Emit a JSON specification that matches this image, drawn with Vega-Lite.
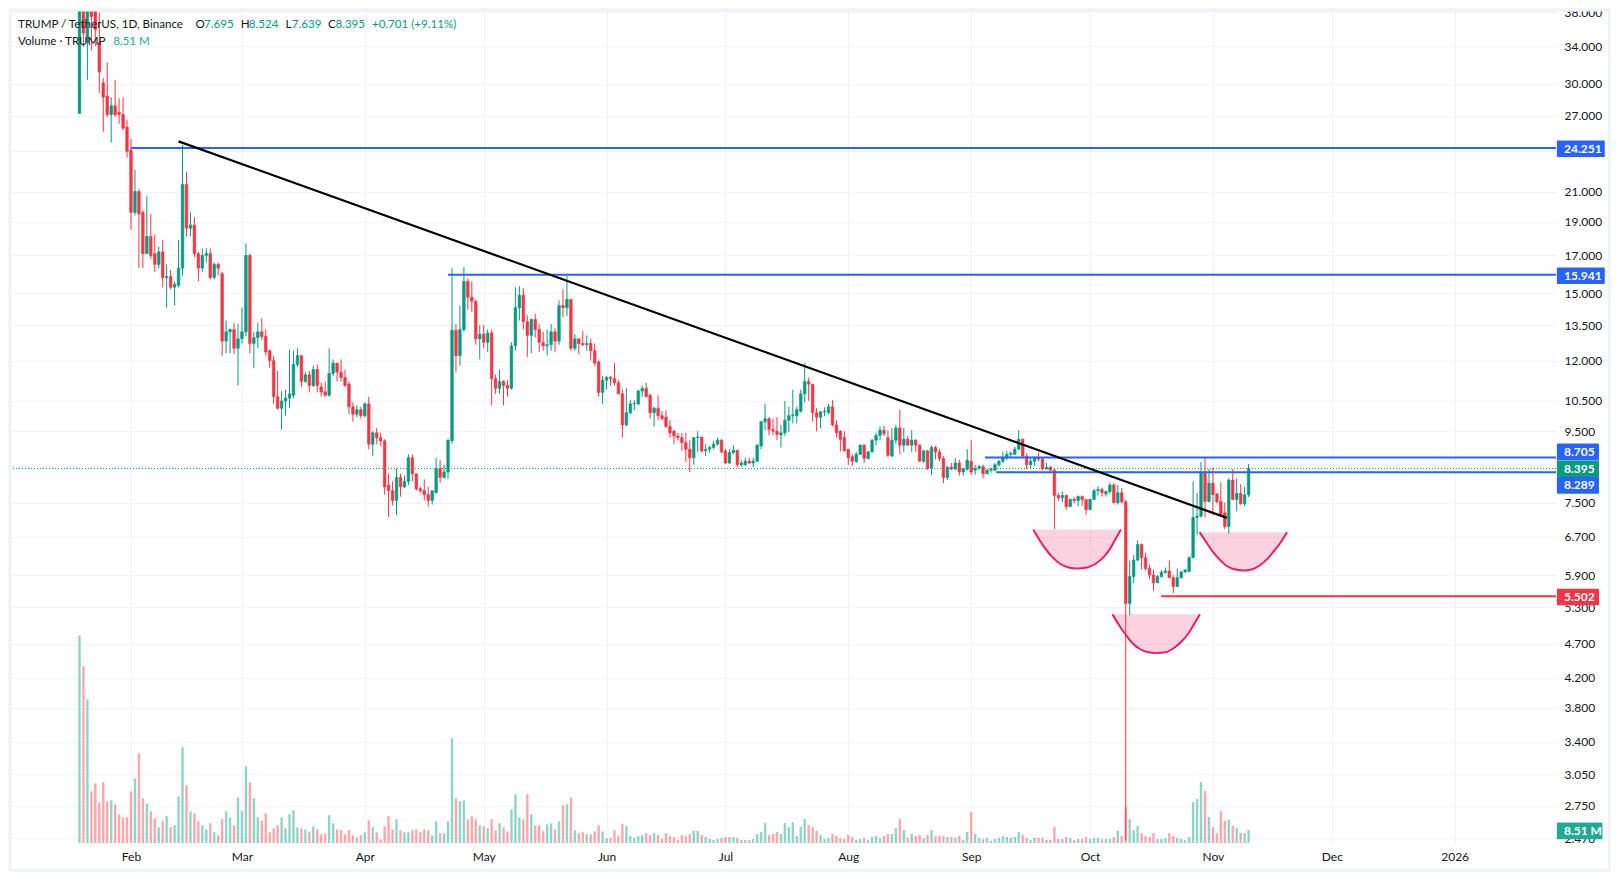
{
  "$schema": "https://vega.github.io/schema/vega-lite/v6.json",
  "width": 1546,
  "height": 833,
  "autosize": {"type": "none"},
  "padding": {"left": 10, "top": 10, "right": 64, "bottom": 38},
  "background": "#ffffff",
  "config": {"view": {"stroke": null}, "font": "Lato"},
  "datasets": {
    "ohlcv": [
      {"date":"2025-01-19","open":27.2,"high":75,"low":27.2,"close":44,"volume":135.9},
      {"date":"2025-01-20","open":44,"high":60,"low":33.9,"close":35.5,"volume":115.6},
      {"date":"2025-01-21","open":34.4,"high":50,"low":30.4,"close":41,"volume":94},
      {"date":"2025-01-22","open":41,"high":48,"low":33.5,"close":37.5,"volume":33.8},
      {"date":"2025-01-23","open":39,"high":45,"low":34,"close":35.9,"volume":39.1},
      {"date":"2025-01-24","open":34.4,"high":38,"low":29.1,"close":31.2,"volume":26.6},
      {"date":"2025-01-25","open":30.1,"high":30.6,"low":25.6,"close":28.7,"volume":39.7},
      {"date":"2025-01-26","open":28.8,"high":32.2,"low":26.9,"close":27.1,"volume":27.3},
      {"date":"2025-01-27","open":27.1,"high":28.7,"low":24.7,"close":27.9,"volume":27.9},
      {"date":"2025-01-28","open":27.9,"high":30.4,"low":26.9,"close":27.1,"volume":25.3},
      {"date":"2025-01-29","open":27.3,"high":28.6,"low":26.3,"close":27.1,"volume":18.8},
      {"date":"2025-01-30","open":27.1,"high":28.7,"low":25.7,"close":25.9,"volume":16.8},
      {"date":"2025-01-31","open":26,"high":26.6,"low":23.5,"close":24,"volume":16.8},
      {"date":"2025-02-01","open":24.1,"high":25,"low":18.5,"close":19.6,"volume":33.8},
      {"date":"2025-02-02","open":19.6,"high":22.6,"low":19.4,"close":21,"volume":42.3},
      {"date":"2025-02-03","open":21,"high":21.2,"low":16.3,"close":19.5,"volume":58.7},
      {"date":"2025-02-04","open":19.6,"high":19.75,"low":16.3,"close":17.1,"volume":29.2},
      {"date":"2025-02-05","open":17.1,"high":20.7,"low":17.1,"close":18.1,"volume":26},
      {"date":"2025-02-06","open":18.1,"high":19.5,"low":16.8,"close":17,"volume":20.7},
      {"date":"2025-02-07","open":17.1,"high":18.2,"low":16.1,"close":16.5,"volume":16.1},
      {"date":"2025-02-08","open":16.5,"high":17.5,"low":16.3,"close":17.2,"volume":10.3},
      {"date":"2025-02-09","open":17.2,"high":17.9,"low":15.3,"close":15.8,"volume":14.2},
      {"date":"2025-02-10","open":15.8,"high":16.5,"low":14.3,"close":15.85,"volume":17.5},
      {"date":"2025-02-11","open":15.85,"high":16.2,"low":15.2,"close":15.3,"volume":10.3},
      {"date":"2025-02-12","open":15.3,"high":15.6,"low":14.4,"close":15.45,"volume":11.6},
      {"date":"2025-02-13","open":15.4,"high":17.9,"low":15.3,"close":16.3,"volume":30.5},
      {"date":"2025-02-14","open":16.3,"high":24.5,"low":15.9,"close":21.5,"volume":62.6},
      {"date":"2025-02-15","open":21.5,"high":22.4,"low":18.1,"close":18.6,"volume":37.7},
      {"date":"2025-02-16","open":18.6,"high":19.6,"low":18.1,"close":18.8,"volume":20.7},
      {"date":"2025-02-17","open":18.8,"high":19.3,"low":16.9,"close":17.1,"volume":19.4},
      {"date":"2025-02-18","open":17.1,"high":17.2,"low":15.6,"close":16.3,"volume":14.2},
      {"date":"2025-02-19","open":16.3,"high":17.4,"low":16.1,"close":17,"volume":11.6},
      {"date":"2025-02-20","open":17,"high":17.4,"low":16.6,"close":17.1,"volume":8.9},
      {"date":"2025-02-21","open":17.1,"high":17.4,"low":15.7,"close":15.8,"volume":12.9},
      {"date":"2025-02-22","open":15.8,"high":16.6,"low":15.7,"close":16.5,"volume":7},
      {"date":"2025-02-23","open":16.5,"high":16.6,"low":15.9,"close":16.3,"volume":5},
      {"date":"2025-02-24","open":16,"high":16.1,"low":12.2,"close":12.8,"volume":15.5},
      {"date":"2025-02-25","open":12.8,"high":13.7,"low":12.3,"close":13.2,"volume":20.7},
      {"date":"2025-02-26","open":13.2,"high":13.35,"low":12.3,"close":13.3,"volume":16.8},
      {"date":"2025-02-27","open":13.3,"high":13.6,"low":12.25,"close":12.5,"volume":11.6},
      {"date":"2025-02-28","open":12.5,"high":13.55,"low":11.05,"close":12.9,"volume":29.9},
      {"date":"2025-03-01","open":12.9,"high":14.3,"low":12.7,"close":13.2,"volume":20.7},
      {"date":"2025-03-02","open":13.2,"high":17.7,"low":13,"close":17,"volume":50.2},
      {"date":"2025-03-03","open":17,"high":17.1,"low":12.3,"close":12.7,"volume":39.7},
      {"date":"2025-03-04","open":12.7,"high":13.2,"low":11.7,"close":12.95,"volume":29.2},
      {"date":"2025-03-05","open":12.95,"high":13.6,"low":12.5,"close":13.2,"volume":16.8},
      {"date":"2025-03-06","open":13.2,"high":13.8,"low":12.85,"close":13,"volume":14.8},
      {"date":"2025-03-07","open":13,"high":13.3,"low":12.2,"close":12.35,"volume":19.4},
      {"date":"2025-03-08","open":12.4,"high":12.45,"low":11.7,"close":12,"volume":7},
      {"date":"2025-03-09","open":12,"high":12.2,"low":10.4,"close":10.65,"volume":9.6},
      {"date":"2025-03-10","open":10.65,"high":11.6,"low":10.2,"close":10.25,"volume":11.6},
      {"date":"2025-03-11","open":10.25,"high":10.85,"low":9.55,"close":10.5,"volume":16.8},
      {"date":"2025-03-12","open":10.5,"high":10.9,"low":10,"close":10.6,"volume":9.6},
      {"date":"2025-03-13","open":10.6,"high":12.45,"low":10.25,"close":10.75,"volume":18.8},
      {"date":"2025-03-14","open":10.7,"high":12.4,"low":10.6,"close":11.85,"volume":21.4},
      {"date":"2025-03-15","open":11.85,"high":12.5,"low":11.75,"close":12.2,"volume":10.3},
      {"date":"2025-03-16","open":12.2,"high":12.2,"low":11,"close":11.2,"volume":9.6},
      {"date":"2025-03-17","open":11.2,"high":11.55,"low":11.15,"close":11.45,"volume":8.9},
      {"date":"2025-03-18","open":11.45,"high":11.6,"low":10.8,"close":11.05,"volume":7.6},
      {"date":"2025-03-19","open":11.05,"high":11.8,"low":11,"close":11.65,"volume":10.9},
      {"date":"2025-03-20","open":11.65,"high":11.85,"low":10.8,"close":11.05,"volume":8.9},
      {"date":"2025-03-21","open":11,"high":11.15,"low":10.65,"close":10.82,"volume":5.7},
      {"date":"2025-03-22","open":10.82,"high":11.2,"low":10.65,"close":10.7,"volume":6.3},
      {"date":"2025-03-23","open":10.7,"high":12.5,"low":10.65,"close":11.5,"volume":18.1},
      {"date":"2025-03-24","open":11.5,"high":12.05,"low":11.4,"close":11.9,"volume":12.9},
      {"date":"2025-03-25","open":11.9,"high":11.9,"low":11.2,"close":11.55,"volume":8.9},
      {"date":"2025-03-26","open":11.55,"high":12.05,"low":11.2,"close":11.35,"volume":8.3},
      {"date":"2025-03-27","open":11.35,"high":11.65,"low":11,"close":11.05,"volume":5.7},
      {"date":"2025-03-28","open":11.1,"high":11.2,"low":10.05,"close":10.3,"volume":8.3},
      {"date":"2025-03-29","open":10.3,"high":10.45,"low":9.8,"close":10.05,"volume":5},
      {"date":"2025-03-30","open":10.05,"high":10.35,"low":9.95,"close":10.2,"volume":3.7},
      {"date":"2025-03-31","open":10.2,"high":10.3,"low":9.9,"close":10,"volume":5},
      {"date":"2025-04-01","open":10,"high":10.45,"low":9.95,"close":10.4,"volume":7},
      {"date":"2025-04-02","open":10.4,"high":10.65,"low":8.95,"close":9.1,"volume":14.8},
      {"date":"2025-04-03","open":9.1,"high":9.5,"low":8.75,"close":9.45,"volume":10.3},
      {"date":"2025-04-04","open":9.45,"high":9.6,"low":9.1,"close":9.3,"volume":7},
      {"date":"2025-04-05","open":9.3,"high":9.45,"low":9.05,"close":9.2,"volume":2.4},
      {"date":"2025-04-06","open":9.2,"high":9.25,"low":7.7,"close":7.9,"volume":10.9},
      {"date":"2025-04-07","open":7.95,"high":8.25,"low":7.15,"close":7.8,"volume":17.5},
      {"date":"2025-04-08","open":7.8,"high":8.05,"low":7.43,"close":7.55,"volume":8.9},
      {"date":"2025-04-09","open":7.55,"high":8.4,"low":7.2,"close":8.15,"volume":15.5},
      {"date":"2025-04-10","open":8.15,"high":8.25,"low":7.65,"close":7.9,"volume":8.3},
      {"date":"2025-04-11","open":7.9,"high":8.2,"low":7.87,"close":8.05,"volume":7},
      {"date":"2025-04-12","open":8.05,"high":8.8,"low":7.95,"close":8.7,"volume":7},
      {"date":"2025-04-13","open":8.7,"high":8.8,"low":8.05,"close":8.25,"volume":8.3},
      {"date":"2025-04-14","open":8.25,"high":8.25,"low":7.8,"close":7.85,"volume":8.9},
      {"date":"2025-04-15","open":7.85,"high":7.9,"low":7.75,"close":7.8,"volume":7},
      {"date":"2025-04-16","open":7.8,"high":8.1,"low":7.55,"close":7.7,"volume":8.9},
      {"date":"2025-04-17","open":7.7,"high":7.9,"low":7.4,"close":7.55,"volume":8.3},
      {"date":"2025-04-18","open":7.55,"high":7.8,"low":7.45,"close":7.8,"volume":5},
      {"date":"2025-04-19","open":7.75,"high":8.7,"low":7.73,"close":8.4,"volume":14.2},
      {"date":"2025-04-20","open":8.4,"high":8.63,"low":8,"close":8.15,"volume":6.3},
      {"date":"2025-04-21","open":8.15,"high":8.5,"low":8.12,"close":8.3,"volume":6.3},
      {"date":"2025-04-22","open":8.3,"high":9.25,"low":8.12,"close":9.22,"volume":14.2},
      {"date":"2025-04-23","open":9.2,"high":16.3,"low":9.12,"close":13.27,"volume":68.5},
      {"date":"2025-04-24","open":13.27,"high":13.55,"low":11.55,"close":12.2,"volume":29.2},
      {"date":"2025-04-25","open":12.2,"high":14.4,"low":11.8,"close":13.3,"volume":27.3},
      {"date":"2025-04-26","open":13.3,"high":16.35,"low":13.2,"close":15.6,"volume":27.9},
      {"date":"2025-04-27","open":15.6,"high":15.75,"low":14.2,"close":14.8,"volume":15.5},
      {"date":"2025-04-28","open":14.8,"high":15.6,"low":14.1,"close":14.6,"volume":17.5},
      {"date":"2025-04-29","open":14.6,"high":14.7,"low":12.65,"close":12.9,"volume":15.5},
      {"date":"2025-04-30","open":12.9,"high":13.5,"low":12.05,"close":13.1,"volume":11.6},
      {"date":"2025-05-01","open":13.1,"high":13.5,"low":12.5,"close":12.75,"volume":10.9},
      {"date":"2025-05-02","open":12.75,"high":13.3,"low":12.35,"close":13.15,"volume":9.6},
      {"date":"2025-05-03","open":13.15,"high":13.3,"low":10.35,"close":11.3,"volume":15.5},
      {"date":"2025-05-04","open":11.3,"high":11.45,"low":10.75,"close":10.95,"volume":8.3},
      {"date":"2025-05-05","open":10.95,"high":11.65,"low":10.75,"close":11.2,"volume":12.9},
      {"date":"2025-05-06","open":11.2,"high":11.25,"low":10.35,"close":11.05,"volume":10.3},
      {"date":"2025-05-07","open":11.05,"high":11.25,"low":10.65,"close":10.95,"volume":7.6},
      {"date":"2025-05-08","open":10.95,"high":12.75,"low":10.9,"close":12.6,"volume":22},
      {"date":"2025-05-09","open":12.6,"high":15.3,"low":12.4,"close":14.3,"volume":31.9},
      {"date":"2025-05-10","open":14.3,"high":15.35,"low":13.7,"close":14.9,"volume":16.8},
      {"date":"2025-05-11","open":14.9,"high":15.25,"low":13.3,"close":13.65,"volume":15.5},
      {"date":"2025-05-12","open":13.65,"high":13.95,"low":12.15,"close":13.05,"volume":31.9},
      {"date":"2025-05-13","open":13.05,"high":13.8,"low":12.3,"close":13.75,"volume":18.8},
      {"date":"2025-05-14","open":13.75,"high":14,"low":12.95,"close":13.3,"volume":11.6},
      {"date":"2025-05-15","open":13.3,"high":13.55,"low":12.35,"close":12.75,"volume":11.6},
      {"date":"2025-05-16","open":12.75,"high":13.2,"low":12.4,"close":12.6,"volume":7.6},
      {"date":"2025-05-17","open":12.6,"high":13.3,"low":12.2,"close":12.65,"volume":12.2},
      {"date":"2025-05-18","open":12.65,"high":13.55,"low":12.4,"close":13.2,"volume":12.9},
      {"date":"2025-05-19","open":13.2,"high":13.35,"low":12.35,"close":12.8,"volume":8.9},
      {"date":"2025-05-20","open":12.8,"high":14.65,"low":12.65,"close":14.4,"volume":14.2},
      {"date":"2025-05-21","open":14.4,"high":15.2,"low":13.85,"close":14.3,"volume":24.7},
      {"date":"2025-05-22","open":14.3,"high":15.9,"low":13.9,"close":14.7,"volume":25.3},
      {"date":"2025-05-23","open":14.7,"high":14.7,"low":12.4,"close":12.5,"volume":29.9},
      {"date":"2025-05-24","open":12.5,"high":13.1,"low":12.4,"close":12.9,"volume":8.3},
      {"date":"2025-05-25","open":12.9,"high":12.9,"low":12.25,"close":12.7,"volume":6.3},
      {"date":"2025-05-26","open":12.7,"high":13.25,"low":12.6,"close":12.65,"volume":7},
      {"date":"2025-05-27","open":12.65,"high":13.05,"low":12.4,"close":12.7,"volume":5.7},
      {"date":"2025-05-28","open":12.7,"high":12.9,"low":12,"close":12.4,"volume":5.7},
      {"date":"2025-05-29","open":12.4,"high":12.7,"low":11.8,"close":11.9,"volume":7.6},
      {"date":"2025-05-30","open":11.95,"high":12,"low":10.65,"close":10.8,"volume":11.6},
      {"date":"2025-05-31","open":10.8,"high":11.4,"low":10.4,"close":11.25,"volume":7.6},
      {"date":"2025-06-01","open":11.25,"high":11.4,"low":10.9,"close":11.35,"volume":3.1},
      {"date":"2025-06-02","open":11.35,"high":11.4,"low":11.05,"close":11.3,"volume":3.1},
      {"date":"2025-06-03","open":11.3,"high":11.9,"low":11.05,"close":11.15,"volume":8.3},
      {"date":"2025-06-04","open":11.15,"high":11.25,"low":10.75,"close":10.75,"volume":4.4},
      {"date":"2025-06-05","open":10.75,"high":10.9,"low":9.3,"close":9.7,"volume":12.4},
      {"date":"2025-06-06","open":9.7,"high":10.95,"low":9.65,"close":10.1,"volume":11.1},
      {"date":"2025-06-07","open":10.1,"high":10.53,"low":10.05,"close":10.4,"volume":4.6},
      {"date":"2025-06-08","open":10.4,"high":10.53,"low":10.18,"close":10.42,"volume":3.3},
      {"date":"2025-06-09","open":10.4,"high":10.9,"low":10.35,"close":10.85,"volume":4.6},
      {"date":"2025-06-10","open":10.85,"high":11.05,"low":10.65,"close":10.95,"volume":5.2},
      {"date":"2025-06-11","open":10.95,"high":11.15,"low":10.63,"close":10.65,"volume":6.5},
      {"date":"2025-06-12","open":10.7,"high":10.75,"low":9.9,"close":10.1,"volume":5.2},
      {"date":"2025-06-13","open":10.1,"high":10.3,"low":9.65,"close":10.25,"volume":6.5},
      {"date":"2025-06-14","open":10.25,"high":10.7,"low":9.85,"close":10,"volume":5.2},
      {"date":"2025-06-15","open":10,"high":10.15,"low":9.85,"close":9.9,"volume":2.6},
      {"date":"2025-06-16","open":9.95,"high":10.18,"low":9.6,"close":9.65,"volume":6.5},
      {"date":"2025-06-17","open":9.65,"high":9.85,"low":9.3,"close":9.45,"volume":4.6},
      {"date":"2025-06-18","open":9.5,"high":9.55,"low":9.1,"close":9.35,"volume":3.9},
      {"date":"2025-06-19","open":9.35,"high":9.45,"low":9.22,"close":9.3,"volume":2},
      {"date":"2025-06-20","open":9.3,"high":9.45,"low":8.9,"close":9.15,"volume":5.2},
      {"date":"2025-06-21","open":9.15,"high":9.45,"low":8.58,"close":8.95,"volume":4.6},
      {"date":"2025-06-22","open":8.95,"high":9.22,"low":8.3,"close":8.7,"volume":5.9},
      {"date":"2025-06-23","open":8.7,"high":9.3,"low":8.5,"close":9.3,"volume":7.9},
      {"date":"2025-06-24","open":9.3,"high":9.5,"low":8.87,"close":9.32,"volume":7.9},
      {"date":"2025-06-25","open":9.32,"high":9.32,"low":8.85,"close":8.9,"volume":5.2},
      {"date":"2025-06-26","open":8.9,"high":9.1,"low":8.75,"close":8.95,"volume":3.9},
      {"date":"2025-06-27","open":8.95,"high":9.05,"low":8.85,"close":9,"volume":2.6},
      {"date":"2025-06-28","open":9,"high":9.2,"low":8.95,"close":9.1,"volume":2},
      {"date":"2025-06-29","open":9.1,"high":9.3,"low":9.07,"close":9.22,"volume":2.6},
      {"date":"2025-06-30","open":9.22,"high":9.25,"low":8.83,"close":8.87,"volume":3.3},
      {"date":"2025-07-01","open":8.9,"high":8.95,"low":8.52,"close":8.55,"volume":3.9},
      {"date":"2025-07-02","open":8.55,"high":8.95,"low":8.52,"close":8.85,"volume":3.9},
      {"date":"2025-07-03","open":8.85,"high":9.07,"low":8.8,"close":8.92,"volume":3.9},
      {"date":"2025-07-04","open":8.92,"high":8.92,"low":8.43,"close":8.5,"volume":3.3},
      {"date":"2025-07-05","open":8.5,"high":8.63,"low":8.43,"close":8.55,"volume":2},
      {"date":"2025-07-06","open":8.5,"high":8.7,"low":8.47,"close":8.6,"volume":2},
      {"date":"2025-07-07","open":8.6,"high":8.7,"low":8.52,"close":8.55,"volume":2},
      {"date":"2025-07-08","open":8.55,"high":8.7,"low":8.43,"close":8.6,"volume":2.6},
      {"date":"2025-07-09","open":8.6,"high":9.1,"low":8.58,"close":9.07,"volume":5.9},
      {"date":"2025-07-10","open":9.05,"high":9.82,"low":8.95,"close":9.8,"volume":7.2},
      {"date":"2025-07-11","open":9.8,"high":10.4,"low":9.53,"close":9.9,"volume":13.1},
      {"date":"2025-07-12","open":9.9,"high":9.95,"low":9.37,"close":9.55,"volume":5.2},
      {"date":"2025-07-13","open":9.55,"high":9.9,"low":9.37,"close":9.5,"volume":5.9},
      {"date":"2025-07-14","open":9.5,"high":9.95,"low":9.22,"close":9.4,"volume":7.2},
      {"date":"2025-07-15","open":9.38,"high":9.7,"low":9,"close":9.45,"volume":5.9},
      {"date":"2025-07-16","open":9.45,"high":10.5,"low":9.35,"close":9.85,"volume":13.1},
      {"date":"2025-07-17","open":9.85,"high":10.3,"low":9.47,"close":10,"volume":10.5},
      {"date":"2025-07-18","open":10,"high":10.9,"low":9.75,"close":10.03,"volume":13.7},
      {"date":"2025-07-19","open":10,"high":10.3,"low":9.75,"close":10.2,"volume":4.6},
      {"date":"2025-07-20","open":10.15,"high":10.9,"low":10.1,"close":10.75,"volume":10.5},
      {"date":"2025-07-21","open":10.75,"high":11.9,"low":10.45,"close":11.2,"volume":15.7},
      {"date":"2025-07-22","open":11.2,"high":11.35,"low":10.5,"close":11.1,"volume":11.8},
      {"date":"2025-07-23","open":11.1,"high":11.1,"low":9.8,"close":10.1,"volume":10.5},
      {"date":"2025-07-24","open":10.1,"high":10.25,"low":9.5,"close":9.95,"volume":7.9},
      {"date":"2025-07-25","open":9.95,"high":10.15,"low":9.6,"close":10.13,"volume":5.2},
      {"date":"2025-07-26","open":10.13,"high":10.28,"low":9.98,"close":10.15,"volume":2.6},
      {"date":"2025-07-27","open":10.1,"high":10.4,"low":10.05,"close":10.3,"volume":3.3},
      {"date":"2025-07-28","open":10.3,"high":10.53,"low":9.65,"close":9.7,"volume":5.9},
      {"date":"2025-07-29","open":9.7,"high":9.85,"low":9.3,"close":9.45,"volume":4.6},
      {"date":"2025-07-30","open":9.5,"high":9.53,"low":8.88,"close":9.25,"volume":3.3},
      {"date":"2025-07-31","open":9.3,"high":9.5,"low":8.88,"close":8.9,"volume":2.6},
      {"date":"2025-08-01","open":8.95,"high":8.95,"low":8.5,"close":8.7,"volume":5.2},
      {"date":"2025-08-02","open":8.73,"high":8.8,"low":8.47,"close":8.6,"volume":3.9},
      {"date":"2025-08-03","open":8.6,"high":8.87,"low":8.55,"close":8.8,"volume":2},
      {"date":"2025-08-04","open":8.8,"high":9.1,"low":8.78,"close":9.07,"volume":2.6},
      {"date":"2025-08-05","open":9.07,"high":9.1,"low":8.55,"close":8.68,"volume":3.3},
      {"date":"2025-08-06","open":8.68,"high":8.9,"low":8.65,"close":8.87,"volume":2},
      {"date":"2025-08-07","open":8.87,"high":9.25,"low":8.85,"close":9.22,"volume":3.9},
      {"date":"2025-08-08","open":9.22,"high":9.45,"low":9.07,"close":9.37,"volume":4.6},
      {"date":"2025-08-09","open":9.37,"high":9.65,"low":9.22,"close":9.53,"volume":3.3},
      {"date":"2025-08-10","open":9.53,"high":9.68,"low":9.35,"close":9.42,"volume":4.6},
      {"date":"2025-08-11","open":9.3,"high":9.53,"low":8.72,"close":8.77,"volume":5.9},
      {"date":"2025-08-12","open":8.75,"high":9.6,"low":8.72,"close":9.22,"volume":5.9},
      {"date":"2025-08-13","open":9.22,"high":9.7,"low":9.1,"close":9.6,"volume":9.8},
      {"date":"2025-08-14","open":9.6,"high":10.2,"low":8.8,"close":9.07,"volume":15.7},
      {"date":"2025-08-15","open":9.07,"high":9.6,"low":8.87,"close":9.25,"volume":8.5},
      {"date":"2025-08-16","open":9.25,"high":9.35,"low":9.05,"close":9.07,"volume":3.3},
      {"date":"2025-08-17","open":9.07,"high":9.53,"low":8.87,"close":9.22,"volume":5.9},
      {"date":"2025-08-18","open":9.22,"high":9.25,"low":8.87,"close":9.07,"volume":4.6},
      {"date":"2025-08-19","open":9.07,"high":9.1,"low":8.58,"close":8.6,"volume":5.2},
      {"date":"2025-08-20","open":8.6,"high":8.93,"low":8.55,"close":8.9,"volume":3.3},
      {"date":"2025-08-21","open":8.9,"high":8.93,"low":8.35,"close":8.4,"volume":5.2},
      {"date":"2025-08-22","open":8.4,"high":9.07,"low":8.22,"close":9,"volume":8.5},
      {"date":"2025-08-23","open":9,"high":9.05,"low":8.65,"close":8.87,"volume":4.6},
      {"date":"2025-08-24","open":8.87,"high":8.95,"low":8.6,"close":8.68,"volume":4.6},
      {"date":"2025-08-25","open":8.68,"high":8.75,"low":8,"close":8.15,"volume":4.6},
      {"date":"2025-08-26","open":8.15,"high":8.47,"low":8.08,"close":8.43,"volume":3.9},
      {"date":"2025-08-27","open":8.43,"high":8.55,"low":8.35,"close":8.38,"volume":3.9},
      {"date":"2025-08-28","open":8.38,"high":8.7,"low":8.35,"close":8.55,"volume":3.3},
      {"date":"2025-08-29","open":8.55,"high":8.65,"low":8.2,"close":8.3,"volume":4.6},
      {"date":"2025-08-30","open":8.3,"high":8.42,"low":8.2,"close":8.38,"volume":2},
      {"date":"2025-08-31","open":8.38,"high":8.95,"low":8.33,"close":8.63,"volume":7.2},
      {"date":"2025-09-01","open":8.6,"high":9.22,"low":8.22,"close":8.3,"volume":20.3},
      {"date":"2025-09-02","open":8.35,"high":8.5,"low":8.22,"close":8.4,"volume":5.9},
      {"date":"2025-09-03","open":8.4,"high":8.5,"low":8.35,"close":8.45,"volume":3.3},
      {"date":"2025-09-04","open":8.45,"high":8.5,"low":8.13,"close":8.25,"volume":2.6},
      {"date":"2025-09-05","open":8.25,"high":8.38,"low":8.23,"close":8.35,"volume":3.3},
      {"date":"2025-09-06","open":8.35,"high":8.42,"low":8.28,"close":8.38,"volume":1.3},
      {"date":"2025-09-07","open":8.35,"high":8.55,"low":8.32,"close":8.5,"volume":2.6},
      {"date":"2025-09-08","open":8.5,"high":8.63,"low":8.45,"close":8.6,"volume":3.3},
      {"date":"2025-09-09","open":8.6,"high":8.88,"low":8.55,"close":8.7,"volume":4.6},
      {"date":"2025-09-10","open":8.7,"high":8.9,"low":8.63,"close":8.8,"volume":3.9},
      {"date":"2025-09-11","open":8.8,"high":8.88,"low":8.7,"close":8.83,"volume":3.3},
      {"date":"2025-09-12","open":8.8,"high":9.03,"low":8.78,"close":8.95,"volume":3.9},
      {"date":"2025-09-13","open":8.95,"high":9.53,"low":8.92,"close":9.25,"volume":7.2},
      {"date":"2025-09-14","open":9.25,"high":9.27,"low":8.68,"close":8.75,"volume":5.2},
      {"date":"2025-09-15","open":8.75,"high":8.82,"low":8.38,"close":8.5,"volume":3.3},
      {"date":"2025-09-16","open":8.5,"high":8.7,"low":8.4,"close":8.6,"volume":2},
      {"date":"2025-09-17","open":8.6,"high":8.75,"low":8.47,"close":8.7,"volume":3.3},
      {"date":"2025-09-18","open":8.7,"high":8.85,"low":8.6,"close":8.66,"volume":3.3},
      {"date":"2025-09-19","open":8.66,"high":8.7,"low":8.35,"close":8.38,"volume":3.3},
      {"date":"2025-09-20","open":8.38,"high":8.55,"low":8.38,"close":8.43,"volume":2},
      {"date":"2025-09-21","open":8.43,"high":8.47,"low":8.32,"close":8.35,"volume":2},
      {"date":"2025-09-22","open":8.35,"high":8.38,"low":6.87,"close":7.68,"volume":10.5},
      {"date":"2025-09-23","open":7.68,"high":7.74,"low":7.55,"close":7.62,"volume":2.6},
      {"date":"2025-09-24","open":7.62,"high":7.78,"low":7.5,"close":7.68,"volume":2.6},
      {"date":"2025-09-25","open":7.68,"high":7.7,"low":7.31,"close":7.4,"volume":3.9},
      {"date":"2025-09-26","open":7.4,"high":7.6,"low":7.4,"close":7.58,"volume":3.3},
      {"date":"2025-09-27","open":7.58,"high":7.63,"low":7.48,"close":7.55,"volume":2},
      {"date":"2025-09-28","open":7.55,"high":7.68,"low":7.41,"close":7.65,"volume":2.6},
      {"date":"2025-09-29","open":7.65,"high":7.68,"low":7.42,"close":7.57,"volume":2.6},
      {"date":"2025-09-30","open":7.57,"high":7.6,"low":7.2,"close":7.33,"volume":3.9},
      {"date":"2025-10-01","open":7.33,"high":7.6,"low":7.31,"close":7.58,"volume":2.6},
      {"date":"2025-10-02","open":7.58,"high":7.85,"low":7.56,"close":7.8,"volume":3.3},
      {"date":"2025-10-03","open":7.8,"high":7.92,"low":7.68,"close":7.83,"volume":3.3},
      {"date":"2025-10-04","open":7.83,"high":7.88,"low":7.65,"close":7.75,"volume":2.6},
      {"date":"2025-10-05","open":7.72,"high":7.8,"low":7.65,"close":7.78,"volume":2.6},
      {"date":"2025-10-06","open":7.78,"high":8.02,"low":7.72,"close":7.95,"volume":2.6},
      {"date":"2025-10-07","open":7.95,"high":8,"low":7.48,"close":7.5,"volume":3.9},
      {"date":"2025-10-08","open":7.5,"high":7.95,"low":7.45,"close":7.75,"volume":7.9},
      {"date":"2025-10-09","open":7.75,"high":7.87,"low":7.48,"close":7.52,"volume":4.6},
      {"date":"2025-10-10","open":7.52,"high":7.57,"low":2.45,"close":5.37,"volume":23.6},
      {"date":"2025-10-11","open":5.37,"high":6.19,"low":5.17,"close":5.87,"volume":15.7},
      {"date":"2025-10-12","open":5.87,"high":6.3,"low":5.75,"close":6.2,"volume":8.5},
      {"date":"2025-10-13","open":6.2,"high":6.62,"low":6.18,"close":6.53,"volume":11.1},
      {"date":"2025-10-14","open":6.53,"high":6.55,"low":6.01,"close":6.25,"volume":6.5},
      {"date":"2025-10-15","open":6.25,"high":6.35,"low":5.99,"close":6.03,"volume":4.6},
      {"date":"2025-10-16","open":6.03,"high":6.11,"low":5.82,"close":5.9,"volume":3.9},
      {"date":"2025-10-17","open":5.9,"high":6,"low":5.6,"close":5.75,"volume":6.5},
      {"date":"2025-10-18","open":5.75,"high":5.9,"low":5.75,"close":5.87,"volume":2.6},
      {"date":"2025-10-19","open":5.87,"high":6,"low":5.85,"close":5.95,"volume":2.6},
      {"date":"2025-10-20","open":5.95,"high":6.05,"low":5.93,"close":5.98,"volume":3.3},
      {"date":"2025-10-21","open":5.98,"high":6.19,"low":5.84,"close":5.85,"volume":6.5},
      {"date":"2025-10-22","open":5.85,"high":5.9,"low":5.56,"close":5.68,"volume":4.6},
      {"date":"2025-10-23","open":5.68,"high":6.03,"low":5.68,"close":5.85,"volume":3.3},
      {"date":"2025-10-24","open":5.85,"high":5.98,"low":5.83,"close":5.96,"volume":2.6},
      {"date":"2025-10-25","open":5.96,"high":6.02,"low":5.94,"close":6,"volume":2},
      {"date":"2025-10-26","open":5.97,"high":6.28,"low":5.96,"close":6.25,"volume":3.9},
      {"date":"2025-10-27","open":6.25,"high":8.05,"low":6.24,"close":7.14,"volume":26.8},
      {"date":"2025-10-28","open":7.14,"high":7.74,"low":6.73,"close":7.17,"volume":28.8},
      {"date":"2025-10-29","open":7.17,"high":8.58,"low":7.14,"close":8.29,"volume":39.9},
      {"date":"2025-10-30","open":8.29,"high":8.7,"low":7.14,"close":7.53,"volume":34},
      {"date":"2025-10-31","open":7.53,"high":8.38,"low":7.5,"close":8,"volume":17},
      {"date":"2025-11-01","open":8,"high":8.43,"low":7.2,"close":7.7,"volume":10.5},
      {"date":"2025-11-02","open":7.72,"high":7.74,"low":7.48,"close":7.52,"volume":6.5},
      {"date":"2025-11-03","open":7.53,"high":8.02,"low":7.18,"close":7.2,"volume":20.9},
      {"date":"2025-11-04","open":7.25,"high":7.5,"low":6.87,"close":6.93,"volume":14.4},
      {"date":"2025-11-05","open":6.93,"high":8.13,"low":6.77,"close":8.08,"volume":15.1},
      {"date":"2025-11-06","open":8.08,"high":8.38,"low":7.56,"close":7.58,"volume":11.1},
      {"date":"2025-11-07","open":7.58,"high":8.13,"low":7.29,"close":7.73,"volume":9.8},
      {"date":"2025-11-08","open":7.73,"high":7.97,"low":7.45,"close":7.47,"volume":6.5},
      {"date":"2025-11-09","open":7.47,"high":7.9,"low":7.4,"close":7.695,"volume":6.5},
      {"date":"2025-11-10","open":7.695,"high":8.524,"low":7.639,"close":8.395,"volume":8.51}
    ],
    "levels": [
      {"price":24.251,"from":"2025-02-01","to":"2026-01-26T13:41:00Z","kind":"level"},
      {"price":15.941,"from":"2025-04-22","to":"2026-01-26T13:41:00Z","kind":"level"},
      {"price":8.705,"from":"2025-09-04T12:00:00Z","to":"2026-01-26T13:41:00Z","kind":"level"},
      {"price":8.289,"from":"2025-09-07T08:00:00Z","to":"2026-01-26T13:41:00Z","kind":"level"},
      {"price":5.502,"from":"2025-10-18T22:00:00Z","to":"2026-01-26T13:41:00Z","kind":"stop"}
    ],
    "chips": [
      {"label":"24.251","at":24.2,"bottom":23.54,"top":24.88,"from":"2026-01-26T19:00:00Z","to":"2026-02-07T21:00:00Z","textAt":"2026-01-28T14:00:00Z","kind":"level"},
      {"label":"15.941","at":15.9,"bottom":15.47,"top":16.34,"from":"2026-01-26T19:00:00Z","to":"2026-02-07T21:00:00Z","textAt":"2026-01-28T14:00:00Z","kind":"level"},
      {"label":"8.705","at":8.87,"bottom":8.63,"top":9.12,"from":"2026-01-26T19:00:00Z","to":"2026-02-06T10:00:00Z","textAt":"2026-01-28T14:00:00Z","kind":"level"},
      {"label":"8.289","at":7.94,"bottom":7.72,"top":8.16,"from":"2026-01-26T19:00:00Z","to":"2026-02-06T10:00:00Z","textAt":"2026-01-28T14:00:00Z","kind":"level"},
      {"label":"8.395","at":8.39,"bottom":8.16,"top":8.62,"from":"2026-01-26T19:00:00Z","to":"2026-02-06T10:00:00Z","textAt":"2026-01-28T14:00:00Z","kind":"last"},
      {"label":"5.502","at":5.49,"bottom":5.34,"top":5.64,"from":"2026-01-26T19:00:00Z","to":"2026-02-06T10:00:00Z","textAt":"2026-01-28T14:00:00Z","kind":"stop"},
      {"label":"8.51 M","at":2.53,"bottom":2.46,"top":2.6,"from":"2026-01-26T19:00:00Z","to":"2026-02-07T07:00:00Z","textAt":"2026-01-28T14:00:00Z","kind":"volume"}
    ],
    "cups": [
      {"cup":1,"date":"2025-09-16T16:00:00Z","price":6.86,"rim":6.86},
      {"cup":1,"date":"2025-09-18T00:00:00Z","price":6.66,"rim":6.86},
      {"cup":1,"date":"2025-09-19T17:00:00Z","price":6.44,"rim":6.86},
      {"cup":1,"date":"2025-09-21T09:00:00Z","price":6.27,"rim":6.86},
      {"cup":1,"date":"2025-09-23T12:00:00Z","price":6.12,"rim":6.86},
      {"cup":1,"date":"2025-09-25T14:00:00Z","price":6.05,"rim":6.86},
      {"cup":1,"date":"2025-09-27T18:00:00Z","price":6.03,"rim":6.86},
      {"cup":1,"date":"2025-09-30T05:00:00Z","price":6.05,"rim":6.86},
      {"cup":1,"date":"2025-10-02T07:00:00Z","price":6.12,"rim":6.86},
      {"cup":1,"date":"2025-10-04T10:00:00Z","price":6.26,"rim":6.86},
      {"cup":1,"date":"2025-10-06T02:00:00Z","price":6.44,"rim":6.86},
      {"cup":1,"date":"2025-10-07T12:00:00Z","price":6.66,"rim":6.86},
      {"cup":1,"date":"2025-10-08T19:00:00Z","price":6.86,"rim":6.86},
      {"cup":2,"date":"2025-10-06T16:00:00Z","price":5.18,"rim":5.18},
      {"cup":2,"date":"2025-10-08T05:00:00Z","price":5.01,"rim":5.18},
      {"cup":2,"date":"2025-10-09T22:00:00Z","price":4.85,"rim":5.18},
      {"cup":2,"date":"2025-10-11T13:00:00Z","price":4.72,"rim":5.18},
      {"cup":2,"date":"2025-10-13T16:00:00Z","price":4.615,"rim":5.18},
      {"cup":2,"date":"2025-10-15T18:00:00Z","price":4.57,"rim":5.18},
      {"cup":2,"date":"2025-10-17T17:00:00Z","price":4.56,"rim":5.18},
      {"cup":2,"date":"2025-10-20T00:00:00Z","price":4.57,"rim":5.18},
      {"cup":2,"date":"2025-10-22T02:00:00Z","price":4.63,"rim":5.18},
      {"cup":2,"date":"2025-10-24T00:00:00Z","price":4.73,"rim":5.18},
      {"cup":2,"date":"2025-10-25T21:00:00Z","price":4.87,"rim":5.18},
      {"cup":2,"date":"2025-10-27T09:00:00Z","price":5.03,"rim":5.18},
      {"cup":2,"date":"2025-10-28T17:00:00Z","price":5.18,"rim":5.18},
      {"cup":3,"date":"2025-10-28T15:00:00Z","price":6.8,"rim":6.8},
      {"cup":3,"date":"2025-10-30T04:00:00Z","price":6.6,"rim":6.8},
      {"cup":3,"date":"2025-10-31T22:00:00Z","price":6.38,"rim":6.8},
      {"cup":3,"date":"2025-11-02T17:00:00Z","price":6.21,"rim":6.8},
      {"cup":3,"date":"2025-11-04T17:00:00Z","price":6.07,"rim":6.8},
      {"cup":3,"date":"2025-11-06T17:00:00Z","price":6.01,"rim":6.8},
      {"cup":3,"date":"2025-11-08T17:00:00Z","price":5.99,"rim":6.8},
      {"cup":3,"date":"2025-11-10T18:00:00Z","price":6.01,"rim":6.8},
      {"cup":3,"date":"2025-11-12T19:00:00Z","price":6.09,"rim":6.8},
      {"cup":3,"date":"2025-11-14T19:00:00Z","price":6.23,"rim":6.8},
      {"cup":3,"date":"2025-11-16T13:00:00Z","price":6.4,"rim":6.8},
      {"cup":3,"date":"2025-11-18T07:00:00Z","price":6.6,"rim":6.8},
      {"cup":3,"date":"2025-11-19T17:00:00Z","price":6.8,"rim":6.8}
    ],
    "status": [
      {"label":"TRUMP / TetherUS, 1D, Binance","date":"2025-01-03T12:00:00Z","price":36.45,"tone":"name"},
      {"label":"O","date":"2025-02-17T07:00:00Z","price":36.45,"tone":"name"},
      {"label":"7.695","date":"2025-02-19T10:00:00Z","price":36.45,"tone":"value"},
      {"label":"H","date":"2025-02-28T17:00:00Z","price":36.45,"tone":"name"},
      {"label":"8.524","date":"2025-03-02T17:00:00Z","price":36.45,"tone":"value"},
      {"label":"L","date":"2025-03-12T00:00:00Z","price":36.45,"tone":"name"},
      {"label":"7.639","date":"2025-03-13T14:00:00Z","price":36.45,"tone":"value"},
      {"label":"C","date":"2025-03-22T17:00:00Z","price":36.45,"tone":"name"},
      {"label":"8.395","date":"2025-03-24T14:00:00Z","price":36.45,"tone":"value"},
      {"label":"+0.701 (+9.11%)","date":"2025-04-02T19:00:00Z","price":36.45,"tone":"value"},
      {"label":"Volume · TRUMP","date":"2025-01-03T12:00:00Z","price":34.5,"tone":"name"},
      {"label":"8.51 M","date":"2025-01-27T12:00:00Z","price":34.5,"tone":"volume"}
    ],
    "trend": [
      {"from":"2025-02-13","to":"2025-11-04T12:00:00Z","high":24.8,"low":7.13}
    ],
    "lastPrice": [
      {"price":8.395,"from":"2025-01-01T11:17:00Z","to":"2026-01-26T13:41:00Z"}
    ],
    "frame": [
      {"from":"2025-01-01T11:17:00Z","to":"2026-02-09T01:00:00Z","low":2.22,"high":38.31}
    ]
  },
  "resolve": {"scale": {"y": "independent"}},
  "layer": [
    {
      "data": {"name": "ohlcv"},
      "mark": {"type": "bar", "width": 2.4, "opacity": 0.5},
      "encoding": {
        "x": {
          "field": "date",
          "type": "temporal",
          "scale": {"type": "utc", "padding": 0, "domain": ["2025-01-01T11:17:00Z", "2026-01-26T13:41:00Z"]},
          "axis": {
            "title": null,
            "values": [
              {"year": 2025, "month": 2, "date": 1, "utc": true},
              {"year": 2025, "month": 3, "date": 1, "utc": true},
              {"year": 2025, "month": 4, "date": 1, "utc": true},
              {"year": 2025, "month": 5, "date": 1, "utc": true},
              {"year": 2025, "month": 6, "date": 1, "utc": true},
              {"year": 2025, "month": 7, "date": 1, "utc": true},
              {"year": 2025, "month": 8, "date": 1, "utc": true},
              {"year": 2025, "month": 9, "date": 1, "utc": true},
              {"year": 2025, "month": 10, "date": 1, "utc": true},
              {"year": 2025, "month": 11, "date": 1, "utc": true},
              {"year": 2025, "month": 12, "date": 1, "utc": true},
              {"year": 2026, "month": 1, "date": 1, "utc": true}
            ],
            "labelExpr": "utcmonth(datum.value) == 0 ? utcyear(datum.value) + '' : utcFormat(datum.value, '%b')",
            "labelFontSize": 12,
            "labelColor": "#131722",
            "labelPadding": 8,
            "labelFlush": false,
            "labelOverlap": false,
            "ticks": false,
            "domain": false,
            "grid": true,
            "gridColor": "#f0f3fa",
            "gridWidth": 1
          }
        },
        "y": {
          "field": "volume",
          "type": "quantitative",
          "scale": {"domain": [0, 545], "nice": false},
          "axis": null
        },
        "color": {"condition": {"test": "datum.close >= datum.open", "value": "#22ab94"}, "value": "#f7525f"}
      }
    },
    {
      "layer": [
        {
          "data": {"name": "ohlcv"},
          "mark": {"type": "rule", "strokeWidth": 1, "clip": true},
          "encoding": {
            "x": {"field": "date", "type": "temporal"},
            "y": {
              "field": "low",
              "type": "quantitative",
              "scale": {"type": "log", "domain": [2.43, 38.31], "nice": false, "zero": false},
              "axis": {
                "title": null,
                "orient": "right",
                "values": [2.47, 2.75, 3.05, 3.4, 3.8, 4.2, 4.7, 5.3, 5.9, 6.7, 7.5, 8.5, 9.5, 10.5, 12, 13.5, 15, 17, 19, 21, 24, 27, 30, 34, 38],
                "labelExpr": "datum.value == 24 || datum.value == 8.5 ? '' : format(datum.value, '.3f')",
                "labelFontSize": 12,
                "labelColor": "#131722",
                "labelPadding": 8,
                "labelFlush": false,
                "labelOverlap": false,
                "ticks": false,
                "domain": false,
                "grid": true,
                "gridColor": "#f0f3fa",
                "gridWidth": 1
              }
            },
            "y2": {"field": "high"},
            "color": {"condition": {"test": "datum.close >= datum.open", "value": "#089981"}, "value": "#f23645"}
          }
        },
        {
          "data": {"name": "ohlcv"},
          "mark": {"type": "bar", "width": 2.6, "strokeWidth": 0.6, "clip": true},
          "encoding": {
            "x": {"field": "date", "type": "temporal"},
            "y": {"field": "open", "type": "quantitative"},
            "y2": {"field": "close"},
            "color": {"condition": {"test": "datum.close >= datum.open", "value": "#089981"}, "value": "#f23645"},
            "stroke": {"condition": {"test": "datum.close >= datum.open", "value": "#089981"}, "value": "#f23645"}
          }
        },
        {
          "data": {"name": "lastPrice"},
          "mark": {"type": "rule", "color": "#089981", "strokeWidth": 1, "strokeDash": [1, 2]},
          "encoding": {
            "x": {"field": "from", "type": "temporal"},
            "x2": {"field": "to"},
            "y": {"field": "price", "type": "quantitative"}
          }
        },
        {
          "data": {"name": "levels"},
          "mark": {"type": "rule", "strokeWidth": 2},
          "encoding": {
            "x": {"field": "from", "type": "temporal"},
            "x2": {"field": "to"},
            "y": {"field": "price", "type": "quantitative"},
            "color": {"condition": {"test": "datum.kind == 'stop'", "value": "#f23645"}, "value": "#2962ff"}
          }
        },
        {
          "data": {"name": "trend"},
          "mark": {"type": "rule", "color": "#000000", "strokeWidth": 2.2},
          "encoding": {
            "x": {"field": "from", "type": "temporal"},
            "x2": {"field": "to"},
            "y": {"field": "high", "type": "quantitative"},
            "y2": {"field": "low"}
          }
        },
        {
          "data": {"name": "cups"},
          "mark": {"type": "area", "interpolate": "monotone", "color": "#e91e63", "opacity": 0.2},
          "encoding": {
            "x": {"field": "date", "type": "temporal"},
            "y": {"field": "price", "type": "quantitative"},
            "y2": {"field": "rim"},
            "detail": {"field": "cup"}
          }
        },
        {
          "data": {"name": "cups"},
          "mark": {"type": "line", "interpolate": "monotone", "color": "#e91e63", "strokeWidth": 2},
          "encoding": {
            "x": {"field": "date", "type": "temporal"},
            "y": {"field": "price", "type": "quantitative"},
            "detail": {"field": "cup"}
          }
        },
        {
          "data": {"name": "chips"},
          "mark": {"type": "rect", "cornerRadius": 1},
          "encoding": {
            "x": {"field": "from", "type": "temporal"},
            "x2": {"field": "to"},
            "y": {"field": "bottom", "type": "quantitative"},
            "y2": {"field": "top"},
            "color": {
              "condition": [
                {"test": "datum.kind == 'last'", "value": "#089981"},
                {"test": "datum.kind == 'stop'", "value": "#f23645"},
                {"test": "datum.kind == 'volume'", "value": "#22ab94"}
              ],
              "value": "#2962ff"
            }
          }
        },
        {
          "data": {"name": "chips"},
          "mark": {"type": "text", "align": "left", "baseline": "middle", "fontSize": 12, "fontWeight": 700, "color": "#ffffff"},
          "encoding": {
            "x": {"field": "textAt", "type": "temporal"},
            "y": {"field": "at", "type": "quantitative"},
            "text": {"field": "label"}
          }
        },
        {
          "data": {"name": "status"},
          "mark": {"type": "text", "align": "left", "baseline": "middle", "fontSize": 11.6},
          "encoding": {
            "x": {"field": "date", "type": "temporal"},
            "y": {"field": "price", "type": "quantitative"},
            "text": {"field": "label"},
            "color": {
              "condition": [
                {"test": "datum.tone == 'value'", "value": "#089981"},
                {"test": "datum.tone == 'volume'", "value": "#22ab94"}
              ],
              "value": "#131722"
            }
          }
        },
        {
          "data": {"name": "frame"},
          "mark": {"type": "rect", "fill": null, "stroke": "#f0f3fa", "strokeWidth": 3},
          "encoding": {
            "x": {"field": "from", "type": "temporal"},
            "x2": {"field": "to"},
            "y": {"field": "low", "type": "quantitative"},
            "y2": {"field": "high"}
          }
        }
      ]
    }
  ]
}
